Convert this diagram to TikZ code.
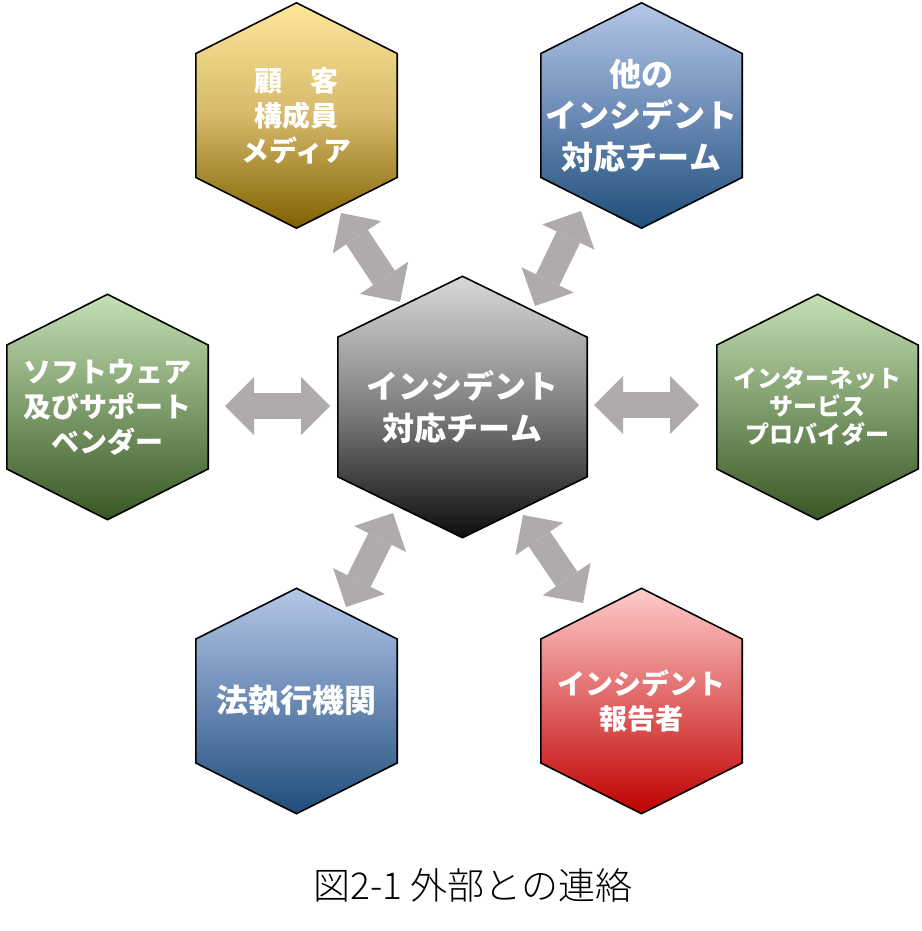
\documentclass[tikz,border=0pt]{standalone}
\usepackage{fontspec}
\newfontfamily\jp{Noto Sans CJK JP}
\newfontfamily\jplight{Noto Sans CJK JP Light}
\usetikzlibrary{arrows.meta, calc, positioning, backgrounds}

\definecolor{graytop}{HTML}{D9D9D9}
\definecolor{graymid}{HTML}{808080}
\definecolor{graybot}{HTML}{0D0D0D}
\definecolor{goldtop}{HTML}{FFE699}
\definecolor{goldmid}{HTML}{D6B96A}
\definecolor{goldbot}{HTML}{7F6000}
\definecolor{bluetop}{HTML}{B4C7E7}
\definecolor{bluemid}{HTML}{6A8AB4}
\definecolor{bluebot}{HTML}{1F4E79}
\definecolor{greentop}{HTML}{C5E0B4}
\definecolor{greenmid}{HTML}{7F9C6C}
\definecolor{greenbot}{HTML}{385723}
\definecolor{redtop}{HTML}{FFCCCC}
\definecolor{redmid}{HTML}{E06666}
\definecolor{redbot}{HTML}{C00000}
\definecolor{arrowgray}{HTML}{AFABAB}

\begin{document}
\begin{tikzpicture}[
  x=1pt, y=1pt,
  on grid,
  every node/.style={inner sep=0pt, align=center},
  hex/.style={minimum width=201pt, minimum height=225pt, text=white, font=\jp\bfseries\fontsize{28}{35}\selectfont},
  bighex/.style={hex, minimum width=249pt, minimum height=261pt, font=\jp\bfseries\fontsize{32}{42}\selectfont},
  bigtext/.style={font=\jp\bfseries\fontsize{32}{41.5}\selectfont},
  smalltext/.style={font=\jp\bfseries\fontsize{24}{28}\selectfont},
  biarrow/.style={draw=arrowgray, line width=26pt,
    {Triangle[length=29pt, width=58pt, line width=0pt]}-{Triangle[length=29pt, width=58pt, line width=0pt]}}
]
\useasboundingbox (0,0) rectangle (921,-931);

% Center node
\node[bighex] (ctr) at (462.5,-407) {インシデント\\対応チーム};

% Outer nodes
\node[hex, above left=291.5pt and 166pt of ctr] (cust) {顧　客\\構成員\\メディア};
\node[hex, bigtext, above right=291.5pt and 179pt of ctr] (csirt) {他の\\インシデント\\対応チーム};
\node[hex, left=355pt of ctr] (vendor) {ソフトウェア\\及びサポート\\ベンダー};
\node[hex, smalltext, right=355pt of ctr] (isp) {インターネット\\サービス\\プロバイダー};
\node[hex, bigtext, below left=294pt and 166pt of ctr] (police) {法執行機関};
\node[hex, below right=294pt and 179pt of ctr] (reporter) {インシデント\\報告者};

% Caption
\node[font=\jplight\fontsize{37}{37}\selectfont] (caption) at (473,-885) {図2-1 外部との連絡};

% Hexagons
\begin{scope}[on background layer]
\foreach \n/\col/\k in {ctr/gray/0.233, cust/gold/0.225, csirt/blue/0.225, vendor/green/0.225,
    isp/green/0.225, police/blue/0.225, reporter/red/0.225}
  \draw[line width=1.6pt, top color=\col top, bottom color=\col bot, middle color=\col mid]
    (\n.north) -- ($(\n.north east)!\k!(\n.south east)$) -- ($(\n.south east)!\k!(\n.north east)$)
    -- (\n.south) -- ($(\n.south west)!\k!(\n.north west)$) -- ($(\n.north west)!\k!(\n.south west)$) -- cycle;
\end{scope}

% Arrow ends
\coordinate (cust_a) at (341,-213);
\coordinate (cust_b) at (400,-302);
\coordinate (csirt_a) at (581,-211);
\coordinate (csirt_b) at (535,-306);
\coordinate (vendor_a) at (225,-406);
\coordinate (vendor_b) at (330,-406);
\coordinate (isp_a) at (594,-405);
\coordinate (isp_b) at (699,-405);
\coordinate (police_a) at (393,-513);
\coordinate (police_b) at (346,-607);
\coordinate (reporter_a) at (523,-515);
\coordinate (reporter_b) at (583,-603);

% Arrows
\draw[biarrow] (cust_a) -- (cust_b);
\draw[biarrow] (csirt_a) -- (csirt_b);
\draw[biarrow] (vendor_a) -- (vendor_b);
\draw[biarrow] (isp_a) -- (isp_b);
\draw[biarrow] (police_a) -- (police_b);
\draw[biarrow] (reporter_a) -- (reporter_b);
\end{tikzpicture}
\end{document}
